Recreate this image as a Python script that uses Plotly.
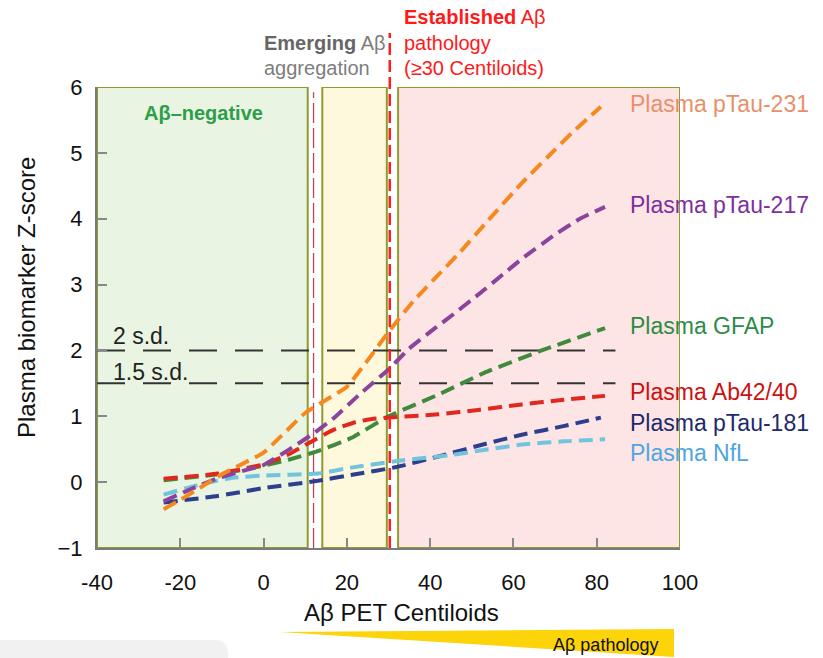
import plotly.graph_objects as go

FONT = "Liberation Sans, Arial, Helvetica, sans-serif"
W, H = 823, 658
L, R, T, B = 97, 143, 87, 110
PW = W - L - R
PH = H - T - B


def pxx(px):
    return (px - L) / PW


def pxy(py):
    return (H - B - py) / PH


# ---------------- data ----------------
x_ticks = [-40, -20, 0, 20, 40, 60, 80, 100]
x_tick_text = ["-40", "-20", "0", "20", "40", "60", "80", "100"]
y_ticks = [-1, 0, 1, 2, 3, 4, 5, 6]
y_tick_text = ["\u22121", "0", "1", "2", "3", "4", "5", "6"]

x_ptau231 = [-24, -20, -10, 0, 10, 20, 25, 30, 36, 42, 47, 54, 62, 70, 74, 78, 81]
y_ptau231 = [-0.41, -0.27, 0.12, 0.45, 1.05, 1.45, 1.85, 2.28, 2.75, 3.15, 3.48, 3.98, 4.54, 5.05, 5.3, 5.53, 5.70]

x_ptau217 = [-24, -18, -11, -5, 0, 6, 12, 17, 23, 30, 35, 41, 46, 52, 57, 62, 70, 76, 82]
y_ptau217 = [-0.29, -0.12, 0.06, 0.17, 0.26, 0.49, 0.74, 0.98, 1.33, 1.71, 2.03, 2.33, 2.57, 2.87, 3.13, 3.39, 3.76, 4.0, 4.18]

x_gfap = [-24, -11, 0, 6, 13, 21, 30, 42, 53, 66, 82]
y_gfap = [0.03, 0.12, 0.25, 0.34, 0.47, 0.67, 1.0, 1.33, 1.66, 1.98, 2.34]

x_ab4240 = [-24, -11, 0, 6, 11, 17, 22, 26, 30, 42, 52, 62, 72, 82]
y_ab4240 = [0.05, 0.13, 0.27, 0.42, 0.6, 0.8, 0.91, 0.96, 0.98, 1.03, 1.1, 1.18, 1.25, 1.31]

x_ptau181 = [-24, -11, 0, 13, 22, 32, 42, 52, 62, 72, 81]
y_ptau181 = [-0.31, -0.21, -0.09, 0.02, 0.12, 0.23, 0.39, 0.56, 0.72, 0.85, 0.98]

x_nfl = [-24, -15, -7, 0, 13, 21, 32, 46, 52, 62, 72, 82]
y_nfl = [-0.19, -0.03, 0.07, 0.10, 0.13, 0.22, 0.32, 0.42, 0.48, 0.57, 0.62, 0.65]

series_names = ["Plasma pTau-231", "Plasma pTau-217", "Plasma GFAP",
                "Plasma Ab42/40", "Plasma pTau-181", "Plasma NfL"]
series_x = [x_ptau231, x_ptau217, x_gfap, x_ab4240, x_ptau181, x_nfl]
series_y = [y_ptau231, y_ptau217, y_gfap, y_ab4240, y_ptau181, y_nfl]

# regions (Centiloids)
neg_region = [-40, 10.6]
emerging_region = [14.1, 29.6]
established_region = [32.3, 100]
emerging_marker = 12
established_marker = 30.3
sd_levels = [2, 1.5]
sd_labels = ["2 s.d.", "1.5 s.d."]
sd_end = 84.5

# ---------------- style ----------------
line_colors = ["#F5891F", "#8B449C", "#3F8A3C", "#E0281F", "#2C3E8C", "#72C4DE"]
label_colors = ["#E8906A", "#7E2F9C", "#2E8B47", "#CC1111", "#1D2A6B", "#4DA6E0"]
label_py = [104, 205, 326, 392, 423, 453]

fig = go.Figure()
for i in [4, 5, 2, 3, 1, 0]:
    fig.add_trace(go.Scatter(
        x=series_x[i], y=series_y[i], mode="lines",
        line=dict(color=line_colors[i], width=4, dash="14px,7px",
                  shape="spline", smoothing=0.4),
        name=series_names[i], showlegend=False, hoverinfo="skip"))

shapes = []
box_line = dict(color="#8E9B2F", width=2)
for (x0, x1), fill in [(neg_region, "#E9F4E3"), (emerging_region, "#FEF9DC"),
                       (established_region, "#FDE5E5")]:
    shapes.append(dict(type="rect", xref="x", yref="y", x0=x0, x1=x1, y0=-1, y1=6,
                       fillcolor=fill, line=box_line, layer="below"))
for lv in sd_levels:
    shapes.append(dict(type="line", xref="x", yref="y", x0=-40, x1=sd_end, y0=lv, y1=lv,
                       line=dict(color="#333333", width=2, dash="28px,18px"), layer="below"))
shapes.append(dict(type="line", xref="x", yref="y", x0=emerging_marker, x1=emerging_marker,
                   y0=-1, y1=5.92, line=dict(color="#B5485A", width=1.3, dash="20px,5px"),
                   layer="below"))
shapes.append(dict(type="line", xref="x", yref="paper", x0=established_marker,
                   x1=established_marker, y0=0, y1=pxy(33),
                   line=dict(color="#FF1F1F", width=2.5, dash="12px,5px")))

# yellow wedge at the bottom
tri = "M {:.5f},{:.5f} L {:.5f},{:.5f} L {:.5f},{:.5f} Z".format(
    pxx(280), pxy(632), pxx(674), pxy(629), pxx(674), pxy(657))
shapes.append(dict(type="path", xref="paper", yref="paper", path=tri,
                   fillcolor="#FDD40A", line=dict(width=0)))
# grey rounded tab bottom-left
rr = "M {:.5f},{:.5f} L {:.5f},{:.5f} Q {:.5f},{:.5f} {:.5f},{:.5f} L {:.5f},{:.5f} L {:.5f},{:.5f} Z".format(
    pxx(0), pxy(640), pxx(214), pxy(640), pxx(228), pxy(640), pxx(228), pxy(654),
    pxx(228), pxy(660), pxx(0), pxy(660))
shapes.append(dict(type="path", xref="paper", yref="paper", path=rr,
                   fillcolor="#F1F1F1", line=dict(width=0)))

ann = []


def A(text, px, py, size, color, xanchor="left", angle=0):
    ann.append(dict(text=text, xref="paper", yref="paper", x=pxx(px), y=pxy(py),
                    xanchor=xanchor, yanchor="middle", showarrow=False, textangle=angle,
                    font=dict(family=FONT, size=size, color=color)))


for i, name in enumerate(series_names):
    A(name, 628, label_py[i], 23, label_colors[i])

A("<b>Emerging</b> <span style='color:#7d7d7d'>A\u03b2</span>", 262, 43, 20, "#666666")
A("aggregation", 262, 68, 20, "#7d7d7d")
A("<b>Established</b> A\u03b2", 402, 17, 20, "#FF1A1A")
A("pathology", 402, 43, 20, "#FF1A1A")
A("(\u226530 Centiloids)", 402, 68, 20, "#FF1A1A")
A("<b>A\u03b2\u2013negative</b>", 142, 113, 20, "#2E9E48")
A(sd_labels[0], 111, 336, 23, "#222222")
A(sd_labels[1], 111, 372, 23, "#222222")
A("A\u03b2 PET Centiloids", 401, 612, 24, "#111111", xanchor="center")
A("Plasma biomarker Z-score", 26, 298, 24, "#111111", xanchor="center", angle=-90)
A("A\u03b2 pathology", 660, 645, 18, "#111111", xanchor="right")

axis_common = dict(showgrid=False, zeroline=False, showline=True, linecolor="#7A7A7A",
                   linewidth=2, ticks="inside", ticklen=10, tickwidth=1.5,
                   tickcolor="#888888", tickfont=dict(family=FONT, size=22, color="#111111"))

fig.update_layout(
    width=W, height=H, margin=dict(l=L, r=R, t=T, b=B, autoexpand=False),
    paper_bgcolor="white", plot_bgcolor="white",
    font=dict(family=FONT),
    xaxis=dict(range=[-40, 100], tickvals=x_ticks, ticktext=x_tick_text,
               ticklabelstandoff=14, **axis_common),
    yaxis=dict(range=[-1, 6], tickvals=y_ticks, ticktext=y_tick_text,
               ticklabelstandoff=8, **axis_common),
    shapes=shapes, annotations=ann,
)

fig.write_html("out.html")
